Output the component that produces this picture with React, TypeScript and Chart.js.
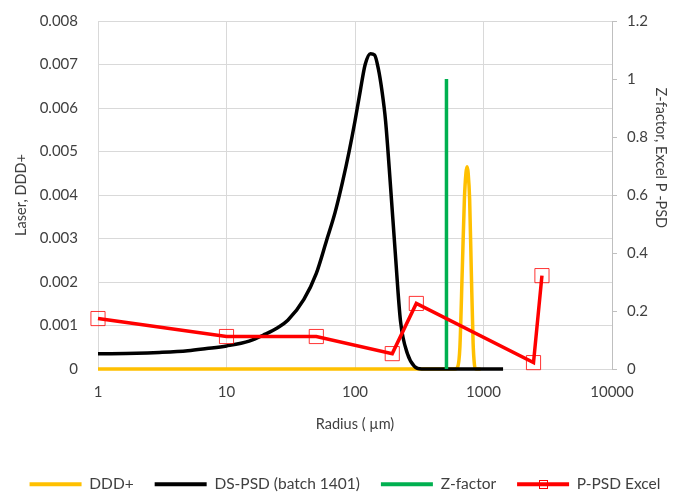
import { useEffect, useRef } from 'react';
import { Chart, registerables } from 'chart.js';
Chart.register(...registerables);

// ---- data ----
const xTicks = [1, 10, 100, 1000, 10000];

const dddX = [1, 2, 5, 10, 20, 50, 100, 200, 300, 400, 500, 560, 600, 630, 655, 684, 710, 730, 745, 760, 780, 803, 830, 850, 870, 900, 950];
const dddY = [0, 0, 0, 0, 0, 0, 0, 0, 0, 0, 0, 0, 0, 0.00005, 0.0005, 0.0023, 0.0039, 0.0045, 0.00465, 0.0045, 0.0039, 0.0023, 0.0006, 0.0001, 0, 0, 0];

const dsX = [1, 2, 3, 5, 7, 10, 15, 20, 25, 30, 40, 50, 60, 70, 80, 90, 100, 110, 120, 132, 142, 152, 162, 173, 189, 206, 226, 256, 290, 330, 500, 1000, 1420];
const dsY = [0.00035, 0.00036, 0.00038, 0.00042, 0.00047, 0.00053, 0.00064, 0.0008, 0.00095, 0.00112, 0.0016, 0.0022, 0.00295, 0.0036, 0.0043, 0.005, 0.0057, 0.0064, 0.007, 0.00725, 0.00722, 0.0069, 0.0064, 0.0057, 0.0042, 0.00265, 0.0011, 0.00035, 0.00006, 0, 0, 0, 0];

const zX = [515, 515];
const zY = [0, 1];

const ppsdX = [1, 10, 50, 195, 300, 2450, 2850];
const ppsdY = [0.174, 0.112, 0.112, 0.053, 0.226, 0.022, 0.322];

const FONT = 'Lato, "Open Sans", sans-serif';
const TXT = '#404040';
const GRID = '#D9D9D9';

const pts = (xs: number[], ys: number[]) => xs.map((x, i) => ({ x, y: ys[i] }));

const legendPatch = {
  id: 'legendPatch',
  beforeLayout(chart: any) {
    const lg = chart.legend;
    if (lg && !lg.__patched) {
      const orig = lg.fit;
      lg.fit = function () {
        const mw = this.maxWidth;
        this.maxWidth = mw + 200;
        orig.call(this);
        this.maxWidth = mw;
        this.width = Math.min(this.width, mw);
        this.height -= 10;
      };
      lg.__patched = true;
    }
  },
  afterLayout(chart: any) {
    const lg = chart.legend;
    if (lg) {
      lg.left += 5;
      lg.right += 5;
    }
  },
  afterDraw(chart: any) {
    const lg = chart.legend;
    if (!lg || !lg.legendItems) return;
    const i = lg.legendItems.findIndex((it: any) => it.datasetIndex === 3);
    if (i < 0) return;
    const hb = lg.legendHitBoxes[i];
    const bw = lg.options.labels.boxWidth;
    const cx = hb.left + bw / 2;
    const cy = hb.top + hb.height / 2;
    const ctx = chart.ctx;
    ctx.save();
    ctx.strokeStyle = '#FF0000';
    ctx.lineWidth = 1;
    ctx.strokeRect(Math.round(cx - 4) + 0.5, Math.round(cy - 4) + 0.5, 8, 8);
    ctx.restore();
  },
};

export default function App() {
  const ref = useRef<HTMLCanvasElement>(null);
  useEffect(() => {
    const chart = new Chart(ref.current!, {
      type: 'line',
      data: {
        datasets: [
          {
            label: 'DDD+',
            data: pts(dddX, dddY),
            borderColor: '#FFC000',
            backgroundColor: '#FFC000',
            borderWidth: 3.5,
            pointRadius: 0,
            cubicInterpolationMode: 'monotone',
            yAxisID: 'y',
            order: 4,
            clip: false,
          },
          {
            label: 'DS-PSD (batch 1401)',
            data: pts(dsX, dsY),
            borderColor: '#000000',
            backgroundColor: '#000000',
            borderWidth: 3.5,
            pointRadius: 0,
            cubicInterpolationMode: 'monotone',
            yAxisID: 'y',
            order: 3,
            clip: false,
          },
          {
            label: 'Z-factor',
            data: pts(zX, zY),
            borderColor: '#00B050',
            backgroundColor: '#00B050',
            borderWidth: 3.5,
            pointRadius: 0,
            yAxisID: 'y1',
            order: 2,
            clip: false,
          },
          {
            label: 'P-PSD Excel',
            data: pts(ppsdX, ppsdY),
            borderColor: '#FF0000',
            backgroundColor: '#FF0000',
            borderWidth: 3.5,
            pointStyle: 'rect',
            pointRadius: 10,
            pointBorderWidth: 1,
            pointBorderColor: 'rgba(255,0,0,0.8)',
            pointBackgroundColor: 'rgba(0,0,0,0)',
            tension: 0,
            yAxisID: 'y1',
            order: 1,
            clip: false,
          },
        ],
      } as any,
      options: {
        responsive: false,
        animation: false,
        events: [],
        layout: { autoPadding: false, padding: { top: 21, left: 0, right: 0, bottom: 0 } },
        scales: {
          x: {
            type: 'logarithmic',
            min: 1,
            max: 10000,
            afterBuildTicks: (s: any) => {
              s.ticks = xTicks.map((v) => ({ value: v }));
            },
            afterFit: (s: any) => {
              s.height = 86.5;
            },
            ticks: {
              autoSkip: false,
              maxRotation: 0,
              padding: 14,
              color: TXT,
              font: { family: FONT, size: 15 },
              callback: (v: any) => String(v),
            },
            grid: { color: GRID, drawTicks: false, lineWidth: 1 },
            border: { color: GRID },
            title: {
              display: true,
              text: 'Radius ( µm)',
              color: TXT,
              font: { family: FONT, size: 14.5 },
              padding: { top: 0, bottom: 22 },
            },
          },
          y: {
            position: 'left',
            min: 0,
            max: 0.008,
            afterFit: (s: any) => {
              s.width = 98;
            },
            ticks: {
              stepSize: 0.001,
              padding: 3,
              color: TXT,
              font: { family: FONT, size: 15 },
              callback: (v: any) => (Math.abs(v) < 1e-9 ? '0' : Number(v).toFixed(3)),
            },
            grid: { color: GRID, drawTicks: true, tickLength: 17, tickColor: 'rgba(0,0,0,0)', lineWidth: 1 },
            border: { color: GRID },
            title: {
              display: true,
              text: 'Laser, DDD+',
              color: TXT,
              font: { family: FONT, size: 14.5 },
              padding: { top: 13, bottom: 0 },
            },
          },
          y1: {
            position: 'right',
            min: 0,
            max: 1.2,
            afterFit: (s: any) => {
              s.width = 68;
            },
            ticks: {
              stepSize: 0.2,
              padding: 10,
              color: TXT,
              font: { family: FONT, size: 15 },
              callback: (v: any) => String(Number(Number(v).toFixed(1))),
            },
            grid: { color: '#BFBFBF', drawOnChartArea: false, drawTicks: true, tickLength: 5 },
            border: { color: '#BFBFBF' },
            title: {
              display: true,
              text: 'Z-factor, Excel P -PSD' + '\u00a0'.repeat(20),
              color: TXT,
              font: { family: FONT, size: 14.5 },
              padding: { top: 11, bottom: 0 },
            },
          },
        },
        plugins: {
          tooltip: { enabled: false },
          legend: {
            position: 'bottom',
            labels: {
              boxWidth: 52,
              boxHeight: 4,
              padding: 21,
              color: TXT,
              font: { family: FONT, size: 15.5 },
              sort: (a: any, b: any) => a.datasetIndex - b.datasetIndex,
              generateLabels: (c: any) =>
                (Chart.defaults.plugins.legend.labels.generateLabels as any)(c).map((it: any) => ({
                  ...it,
                  lineWidth: 0,
                  fillStyle: it.strokeStyle,
                })),
            },
          },
        },
      } as any,
      plugins: [legendPatch],
    });
    return () => chart.destroy();
  }, []);
  return (
    <div style={{ position: 'absolute', left: 0, top: 0, width: 680, height: 492 }}>
      <canvas ref={ref} width={680} height={492} style={{ display: 'block' }} />
    </div>
  );
}
